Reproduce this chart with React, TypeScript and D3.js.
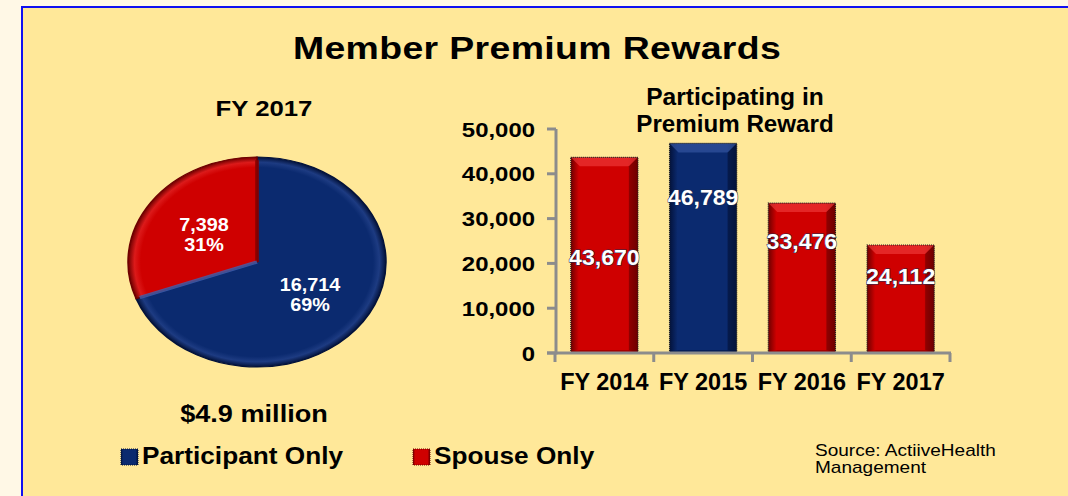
import React from "react";
import * as d3 from "d3";

const pieCategories = ["Participant Only", "Spouse Only"];
const pieValues = [16714, 7398];

const barCategories = ["FY 2014", "FY 2015", "FY 2016", "FY 2017"];
const barValues = [43670, 46789, 33476, 24112];
const barSeries = ["Spouse Only", "Participant Only", "Spouse Only", "Spouse Only"];
const barLabelAt = [21400, 34800, 25000, 17200];
const yTicks = [0, 10000, 20000, 30000, 40000, 50000];

const FONT = "'Liberation Sans', Arial, Helvetica, sans-serif";
const COLORS: Record<string, { base: string; light: string; rim: string; dark: string }> = {
  "Participant Only": { base: "#0B2A6F", light: "#3A5BA8", rim: "#1D3B82", dark: "#03123A" },
  "Spouse Only": { base: "#CF0000", light: "#F24040", rim: "#DC1A1A", dark: "#6E0000" },
};

function T(props: {
  x: number; y: number; sx?: number; size: number; anchor?: "start" | "middle" | "end";
  bold?: boolean; fill?: string; children: React.ReactNode; ls?: number; dy?: string; extra?: any;
}) {
  const { x, y, sx = 1, size, anchor = "start", bold = true, fill = "#000", children, ls = 0, dy, extra = {} } = props;
  return (
    <text transform={`translate(${x},${y}) scale(${sx},1)`} textAnchor={anchor} fontSize={size}
      fontWeight={bold ? "bold" : "normal"} fill={fill} letterSpacing={ls} dy={dy} {...extra}>
      {children}
    </text>
  );
}

export default function App() {
  const W = 1068;
  const H = 496;

  const x = d3.scaleBand<string>().domain(barCategories).range([555, 950]).paddingInner(0.32).paddingOuter(0.16);
  const y = d3.scaleLinear().domain([0, 50000]).range([353, 129]);
  const fmt = d3.format(",");

  const cx = 257, cy = 262, rx = 129, ry = 105;
  const pie = d3.pie<number>().sort(null)(pieValues);
  const arc = d3.arc<d3.PieArcDatum<number>>().innerRadius(0).outerRadius(rx);
  const total = d3.sum(pieValues);
  const step = x.step();

  const bevel = 9;

  return (
    <div style={{ position: "absolute", left: 0, top: 0 }}>
      <svg width={W} height={H} style={{ display: "block", fontFamily: FONT }}>
        <defs>
          {pieCategories.map((c, i) => (
            <radialGradient key={c} id={`pg${i}`} cx="0" cy="0" r={rx} gradientUnits="userSpaceOnUse">
              <stop offset="0" stopColor={COLORS[c].base} />
              <stop offset="0.9" stopColor={COLORS[c].base} />
              <stop offset="0.95" stopColor={COLORS[c].rim} />
              <stop offset="1" stopColor={COLORS[c].dark} />
            </radialGradient>
          ))}
          {pieCategories.map((c, i) => (
            <linearGradient key={c} id={`bg${i}`} x1="0" x2="1" y1="0" y2="0">
              <stop offset="0" stopColor={COLORS[c].dark} />
              <stop offset="0.12" stopColor={COLORS[c].base} />
              <stop offset="0.85" stopColor={COLORS[c].base} />
              <stop offset="1" stopColor={COLORS[c].dark} />
            </linearGradient>
          ))}
        </defs>
        <rect x={0} y={0} width={W} height={H} fill="#FFF8E6" />
        <rect x={22} y={7} width={1100} height={600} fill="#FFE899" stroke="#1010F0" strokeWidth={2} />

        <T x={537} y={59} size={32} sx={1.17} anchor="middle" ls={0.3}>Member Premium Rewards</T>

        {/* Pie */}
        <T x={264} y={116} size={22} sx={1.17} anchor="middle">FY 2017</T>
        <g transform={`translate(${cx},${cy}) scale(1,${ry / rx})`}>
          {pie.map((d, i) => (
            <path key={i} d={arc(d) || ""} fill={`url(#pg${i})`} stroke={COLORS[pieCategories[i]].dark} strokeWidth={1.5} />
          ))}
          {pie.map((d, i) => {
            const a = d.startAngle;
            return (
              <line key={"s" + i} x1={0} y1={0} x2={rx * Math.sin(a) * 0.97} y2={-rx * Math.cos(a) * 0.97}
                stroke={i === 0 ? "#8A0000" : "#4060B0"} strokeWidth={4} strokeOpacity={0.8} />
            );
          })}
        </g>
        {pie.map((d, i) => {
          const mid = (d.startAngle + d.endAngle) / 2;
          const lx = cx + Math.sin(mid) * rx * 0.5;
          const ly = cy - Math.cos(mid) * ry * 0.5;
          return (
            <g key={"pl" + i}>
              <T x={lx} y={ly - 1} size={18} sx={1.1} anchor="middle" fill="#fff">{fmt(d.data)}</T>
              <T x={lx} y={ly + 19} size={18} sx={1.1} anchor="middle" fill="#fff">{Math.round((d.data / total) * 100)}%</T>
            </g>
          );
        })}

        <T x={254} y={422} size={24} sx={1.13} anchor="middle">$4.9 million</T>

        {/* Legend */}
        {pieCategories.map((c, i) => {
          const lx = i === 0 ? 121 : 413;
          return (
            <g key={"lg" + c}>
              <rect x={lx} y={449} width={17} height={16} fill={`url(#bg${i})`} stroke={COLORS[c].dark} strokeWidth={1} strokeDasharray="1 1" />
              <T x={lx + 21} y={464} size={23} sx={1.14}>{c}</T>
            </g>
          );
        })}

        {/* Bar chart title */}
        <T x={735} y={105} size={23} sx={1.07} anchor="middle">Participating in</T>
        <T x={735} y={132} size={23} sx={1.05} anchor="middle">Premium Reward</T>

        {/* Bars */}
        {barCategories.map((c, i) => {
          const s = barSeries[i];
          const gi = pieCategories.indexOf(s);
          const bx = x(c)!;
          const bw = x.bandwidth();
          const by = y(barValues[i]);
          const bh = y(0) - by;
          const col = COLORS[s];
          return (
            <g key={"b" + c}>
              <rect x={bx} y={by} width={bw} height={bh} fill={`url(#bg${gi})`} />
              <polygon points={`${bx},${by} ${bx + bw},${by} ${bx + bw - bevel},${by + bevel} ${bx + bevel},${by + bevel}`} fill={col.light} opacity={0.6} />
              <polygon points={`${bx + bw},${by} ${bx + bw},${by + bh} ${bx + bw - bevel},${by + bh - 3} ${bx + bw - bevel},${by + bevel}`} fill={col.dark} opacity={0.6} />
              <polygon points={`${bx},${by + bh} ${bx + bw},${by + bh} ${bx + bw - bevel},${by + bh - 3} ${bx + bevel},${by + bh - 3}`} fill={col.dark} opacity={0.4} />
              <rect x={bx} y={by} width={bw} height={bh} fill="none" stroke="#222" strokeWidth={1.2} strokeDasharray="1 1" />
            </g>
          );
        })}
        {barCategories.map((c, i) => (
          <T key={"bl" + c} x={x(c)! + x.bandwidth() / 2} y={y(barLabelAt[i])} dy="0.35em" size={22} sx={1.05}
            anchor="middle" fill="#fff" extra={{ stroke: "#1a2a50", strokeWidth: 1, paintOrder: "stroke" }}>
            {fmt(barValues[i])}
          </T>
        ))}

        {/* Axes */}
        <g stroke="#8C8C8C" strokeWidth={3}>
          <line x1={556} x2={556} y1={129} y2={354.5} />
          <line x1={547} x2={951} y1={353} y2={353} />
          {yTicks.map((t) => (
            <line key={"yt" + t} x1={547} x2={556} y1={y(t)} y2={y(t)} />
          ))}
          {d3.range(barCategories.length + 1).map((k) => (
            <line key={"xt" + k} x1={555 + k * step} x2={555 + k * step} y1={353} y2={362} />
          ))}
        </g>
        {yTicks.map((t) => (
          <T key={"ytl" + t} x={535} y={y(t)} dy="0.36em" size={21} sx={1.14} anchor="end">{fmt(t)}</T>
        ))}
        {barCategories.map((c) => (
          <T key={"xl" + c} x={x(c)! + x.bandwidth() / 2} y={390} size={23} sx={1.02} anchor="middle">{c}</T>
        ))}

        <T x={815} y={456} size={17} sx={1.12} bold={false}>Source: ActiiveHealth</T>
        <T x={815} y={473} size={17} sx={1.12} bold={false}>Management</T>
      </svg>
    </div>
  );
}
